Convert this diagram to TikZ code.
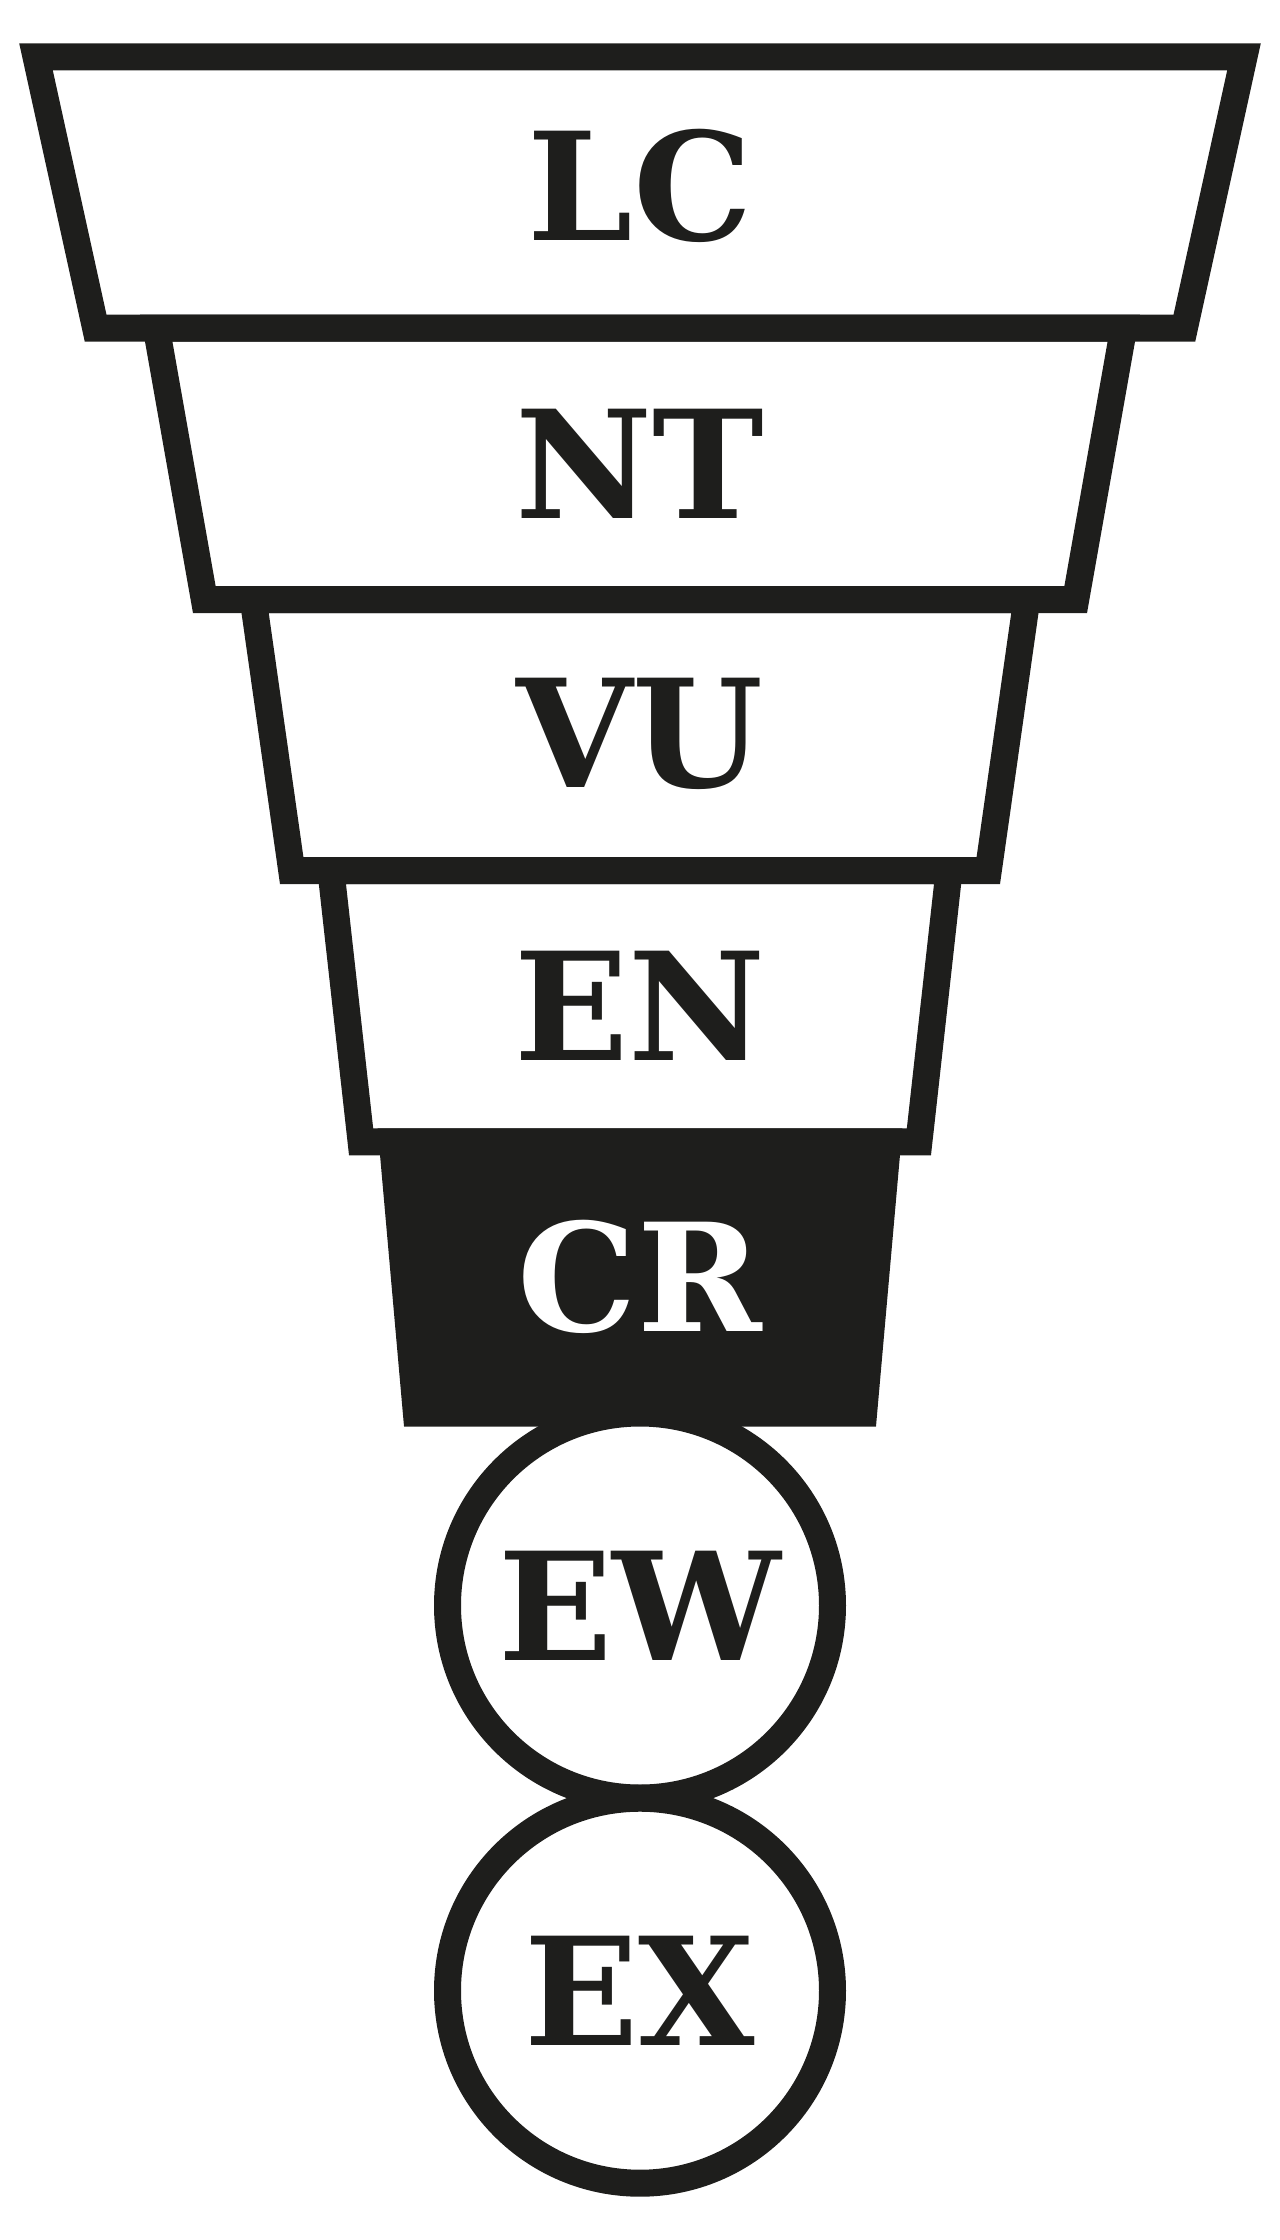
\documentclass[tikz,border=0pt]{standalone}
\usepackage{fontspec}
\setmainfont{DejaVu Serif}
\usepackage{tikz}
\definecolor{ink}{RGB}{30,30,28}

\begin{document}
\begin{tikzpicture}[x=0.5pt,y=-0.5pt,
    band/.style={draw=ink,line width=13.5pt},
    lbl/.style={font=\fontsize{75}{75}\selectfont\bfseries,text=ink,inner sep=0pt},
    ring/.style={lbl,circle,draw=ink,fill=white,line width=13.5pt,minimum size=192.5pt}]
  \useasboundingbox (0,0) rectangle (1280,2240);

  \draw[band] (36,56.8) -- (1244,56.8) -- (1184.4,328) -- (95.6,328) -- cycle;
  \draw[band] (156.3,328) -- (1123.7,328) -- (1075.7,599.5) -- (204.3,599.5) -- cycle;
  \draw[band] (253.2,599.5) -- (1026.8,599.5) -- (988.3,870.5) -- (291.7,870.5) -- cycle;
  \draw[band] (330.9,870.5) -- (949.1,870.5) -- (918.9,1141.8) -- (361.1,1141.8) -- cycle;
  \draw[band,fill=ink] (392.4,1141.8) -- (887.6,1141.8) -- (863.6,1413.2) -- (416.4,1413.2) -- cycle;

  \node (lc) at (640,186) [lbl] {LC};
  \node (nt) at (640,464) [lbl] {NT};
  \node (vu) at (640,734) [lbl] {VU};
  \node (en) at (640,1006) [lbl] {EN};
  \node (cr) at (640,1277) [lbl,text=white] {CR};

  \node (ew) at (640,1605.5) [ring] {EW};
  \node (ex) at (640,1990.7) [ring] {EX};
\end{tikzpicture}
\end{document}
